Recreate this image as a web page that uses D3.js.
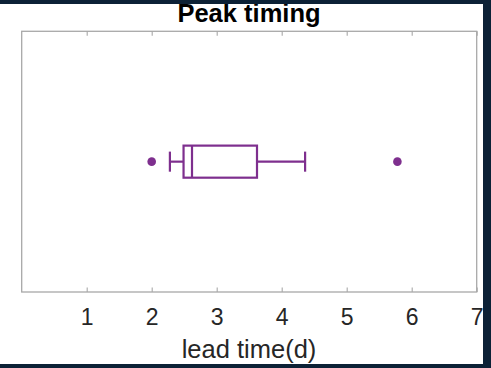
<!DOCTYPE html>
<html>
<head>
<meta charset="utf-8">
<script src="https://cdn.jsdelivr.net/npm/d3@7"></script>
<style>
html,body{margin:0;padding:0;background:#0c2136;}
svg{display:block;}
text{font-family:"Liberation Sans",Arial,Helvetica,sans-serif;}
</style>
</head>
<body>
<svg id="chart" width="491" height="368"></svg>
<script>
// ---- data ----
const categories = ["Peak timing"];
const tickValues = [1, 2, 3, 4, 5, 6, 7];
const whiskerLow = [2.28];
const q1 = [2.49];
const median = [2.62];
const q3 = [3.62];
const whiskerHigh = [4.36];
const outliers = [2.0, 5.78];

const W = 491, H = 368;
const svg = d3.select("#chart");
const purple = "#7E2F8E";
const axisGray = "#a8a8a8";
const textGray = "#262626";

// white page
svg.append("rect").attr("x", 0).attr("y", 0).attr("width", W).attr("height", H).attr("fill", "#ffffff");

const m = {left: 21.7, right: 476.7, top: 31.3, bottom: 292};
const x = d3.scaleLinear().domain([0, 7]).range([m.left, m.right]);
const y = d3.scaleBand().domain(categories).range([m.top, m.bottom]);
const yc = y(categories[0]) + y.bandwidth() / 2;
const boxH = y.bandwidth() * 0.0615;
const capH = y.bandwidth() * 0.0385;

// frame
svg.append("rect")
  .attr("x", m.left).attr("y", m.top)
  .attr("width", m.right - m.left).attr("height", m.bottom - m.top)
  .attr("fill", "none").attr("stroke", axisGray).attr("stroke-width", 1.3);

// bottom axis (inward ticks)
const xAxis = d3.axisBottom(x).tickValues(tickValues).tickSize(-4.5).tickPadding(18).tickFormat(d3.format("d"));
const gx = svg.append("g").attr("transform", `translate(0,${m.bottom})`).call(xAxis);
gx.select(".domain").remove();
gx.selectAll(".tick line").attr("stroke", axisGray).attr("stroke-width", 1.1);
gx.selectAll(".tick text").attr("fill", textGray).attr("font-size", 23).attr("dy", null).attr("y", 32.5);

// top axis ticks
const xTop = d3.axisTop(x).tickValues(tickValues).tickSize(-4.5).tickFormat("");
const gt = svg.append("g").attr("transform", `translate(0,${m.top})`).call(xTop);
gt.select(".domain").remove();
gt.selectAll(".tick line").attr("stroke", axisGray).attr("stroke-width", 1.1);

// boxplot
const g = svg.append("g").attr("stroke", purple).attr("stroke-width", 2.2).attr("fill", "none");
// whiskers
g.append("line").attr("x1", x(whiskerLow[0])).attr("x2", x(q1[0])).attr("y1", yc).attr("y2", yc);
g.append("line").attr("x1", x(q3[0])).attr("x2", x(whiskerHigh[0])).attr("y1", yc).attr("y2", yc);
// caps
[whiskerLow[0], whiskerHigh[0]].forEach(v => {
  g.append("line").attr("x1", x(v)).attr("x2", x(v)).attr("y1", yc - capH).attr("y2", yc + capH);
});
// box
g.append("rect").attr("x", x(q1[0])).attr("y", yc - boxH)
  .attr("width", x(q3[0]) - x(q1[0])).attr("height", 2 * boxH);
// median
g.append("line").attr("x1", x(median[0])).attr("x2", x(median[0])).attr("y1", yc - boxH).attr("y2", yc + boxH);
// outliers
svg.selectAll("circle.out").data(outliers).enter().append("circle")
  .attr("class", "out").attr("cx", d => x(d)).attr("cy", yc).attr("r", 4.3).attr("fill", purple);

// title
svg.append("text").attr("x", 249).attr("y", 22)
  .attr("text-anchor", "middle").attr("font-size", 25.5).attr("font-weight", "bold").attr("fill", "#000")
  .text(categories[0]);

// x label
svg.append("text").attr("x", 249).attr("y", 357.5)
  .attr("text-anchor", "middle").attr("font-size", 25.5).attr("fill", textGray)
  .text("lead time(d)");

// dark frame
const dark = "#0c2136";
svg.append("rect").attr("x", 0).attr("y", 0).attr("width", W).attr("height", 4).attr("fill", dark);
svg.append("rect").attr("x", 483).attr("y", 0).attr("width", W - 483).attr("height", H).attr("fill", dark);
svg.append("rect").attr("x", 0).attr("y", 364).attr("width", W).attr("height", H - 364).attr("fill", dark);
</script>
</body>
</html>
